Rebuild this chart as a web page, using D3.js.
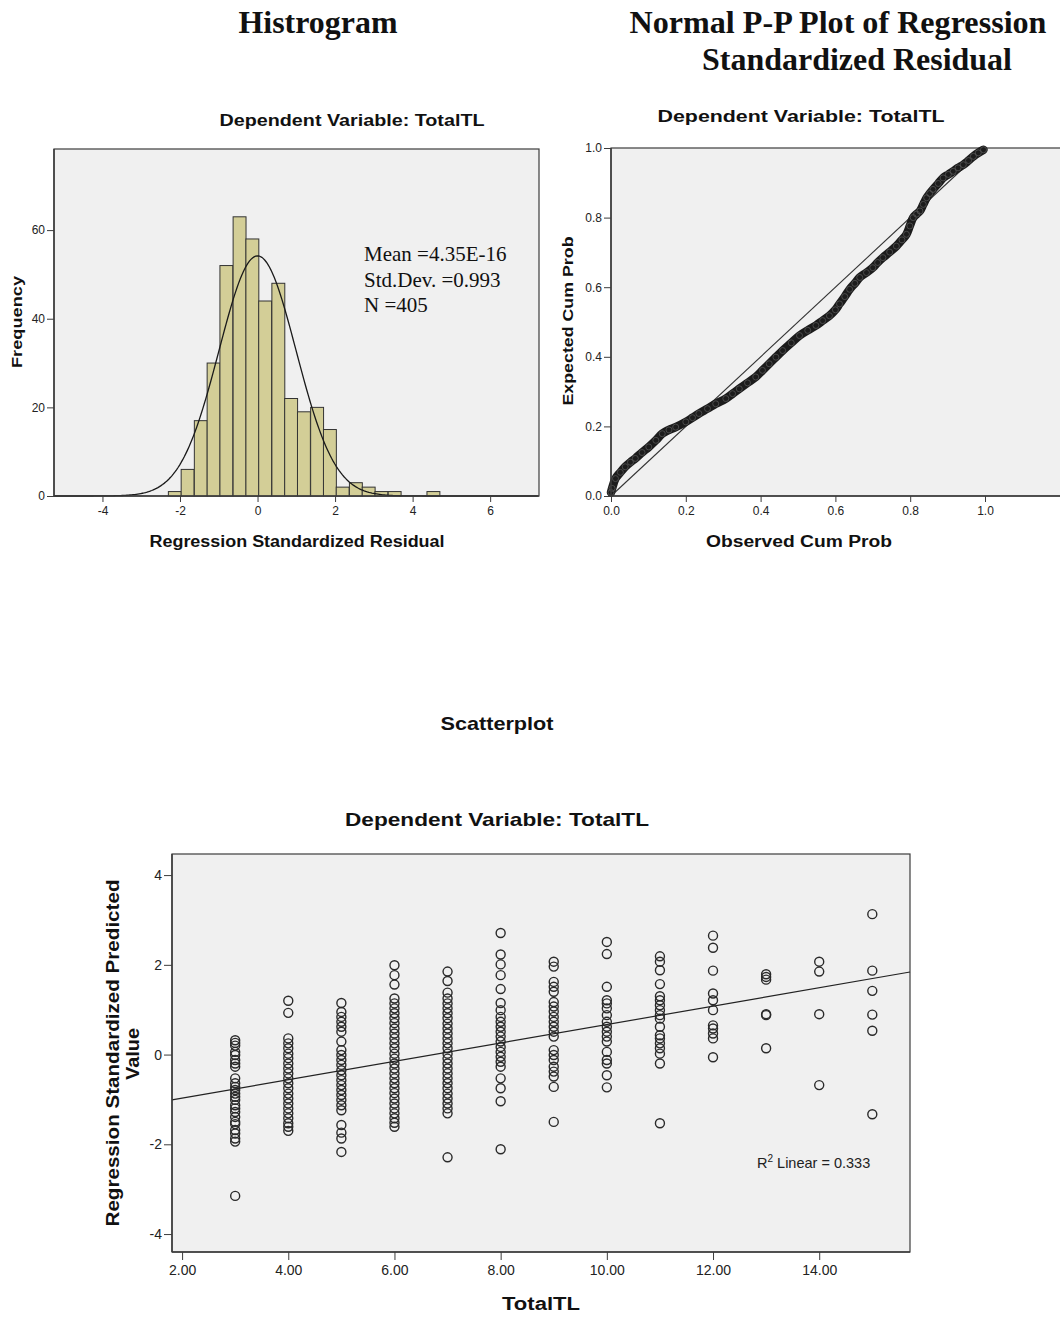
<!DOCTYPE html>
<html><head><meta charset="utf-8">
<script src="https://cdn.jsdelivr.net/npm/d3@7"></script>
<style>body{margin:0;background:#fff}svg{display:block}</style>
</head><body><div id="chart"></div>
<script>
// ---------- DATA ----------
// Histogram (Regression Standardized Residual)
const histBinLeft = [-2.30,-1.97,-1.63,-1.30,-0.97,-0.63,-0.30,0.03,0.37,0.70,1.03,1.37,1.70,2.03,2.37,2.70,3.03,3.37,3.70,4.03,4.37];
const histCounts  = [1,6,17,30,52,63,58,44,48,22,19,20,15,2,3,2,1,1,0,0,1];
const histBinWidth = 0.333;
const histMean = 4.35e-16, histSD = 0.993, histN = 405;
const histXTicks = [-4,-2,0,2,4,6];
const histYTicks = [0,20,40,60];
const statLines = ["Mean =4.35E-16","Std.Dev. =0.993","N =405"];

// Normal P-P plot (observed vs expected cumulative probability)
const ppObserved = [0.000,0.003,0.012,0.025,0.038,0.052,0.065,0.083,0.101,0.120,0.137,0.155,0.173,0.200,0.218,0.235,0.258,0.280,0.307,0.325,0.343,0.365,0.387,0.405,0.423,0.441,0.459,0.482,0.504,0.526,0.548,0.566,0.584,0.600,0.611,0.625,0.638,0.652,0.665,0.683,0.700,0.713,0.727,0.745,0.763,0.778,0.790,0.799,0.808,0.817,0.826,0.835,0.844,0.852,0.861,0.875,0.888,0.902,0.915,0.928,0.942,0.956,0.969,0.982,0.996];
const ppExpected = [0.010,0.022,0.050,0.068,0.084,0.097,0.108,0.125,0.141,0.160,0.179,0.190,0.198,0.213,0.225,0.237,0.251,0.265,0.280,0.294,0.308,0.325,0.342,0.361,0.380,0.399,0.418,0.440,0.461,0.476,0.490,0.504,0.518,0.535,0.552,0.573,0.594,0.611,0.628,0.642,0.656,0.671,0.685,0.701,0.718,0.736,0.752,0.776,0.800,0.810,0.819,0.838,0.857,0.869,0.881,0.898,0.914,0.924,0.933,0.943,0.952,0.964,0.976,0.986,0.995];
const ppTicks = [0,0.2,0.4,0.6,0.8,1.0];

// Scatterplot: TotalTL vs Regression Standardized Predicted Value
const totalTL = [3,4,5,6,7,8,9,10,11,12,13,14,15];
const predicted = [
  [0.32,0.26,0.20,0.06,-0.01,-0.12,-0.20,-0.27,-0.53,-0.64,-0.72,-0.79,-0.87,-0.94,-1.01,-1.13,-1.20,-1.28,-1.39,-1.50,-1.55,-1.68,-1.76,-1.87,-1.94,-3.15],
  [1.20,0.93,0.36,0.25,0.14,0.02,-0.08,-0.20,-0.31,-0.42,-0.53,-0.64,-0.75,-0.87,-0.98,-1.09,-1.20,-1.31,-1.42,-1.53,-1.61,-1.70],
  [1.15,0.95,0.84,0.73,0.62,0.51,0.29,0.10,-0.01,-0.12,-0.23,-0.35,-0.46,-0.57,-0.68,-0.79,-0.90,-1.01,-1.13,-1.24,-1.57,-1.74,-1.87,-2.17],
  [1.99,1.77,1.56,1.25,1.14,1.03,0.92,0.81,0.70,0.58,0.47,0.36,0.25,0.14,0.02,-0.09,-0.20,-0.31,-0.42,-0.53,-0.64,-0.75,-0.86,-0.98,-1.09,-1.20,-1.31,-1.42,-1.52,-1.61],
  [1.85,1.64,1.38,1.25,1.14,1.03,0.92,0.81,0.69,0.58,0.47,0.36,0.25,0.14,0.02,-0.09,-0.20,-0.31,-0.42,-0.53,-0.64,-0.75,-0.87,-0.98,-1.09,-1.20,-1.31,-2.29],
  [2.71,2.23,2.01,1.77,1.46,1.15,0.99,0.84,0.73,0.62,0.51,0.40,0.29,0.17,0.06,-0.05,-0.16,-0.27,-0.53,-0.75,-1.04,-2.11],
  [2.07,1.96,1.62,1.51,1.40,1.17,1.07,0.96,0.84,0.73,0.62,0.51,0.40,0.10,-0.01,-0.12,-0.27,-0.38,-0.49,-0.72,-1.50],
  [2.51,2.24,1.51,1.21,1.14,1.03,0.88,0.73,0.62,0.51,0.40,0.29,0.06,-0.12,-0.20,-0.46,-0.73],
  [2.19,2.07,1.88,1.57,1.30,1.21,1.10,0.99,0.88,0.80,0.62,0.43,0.36,0.25,0.14,0.02,-0.20,-1.53],
  [2.65,2.38,1.87,1.36,1.21,0.99,0.65,0.58,0.47,0.36,-0.06],
  [1.79,1.73,1.67,0.90,0.88,0.14],
  [2.07,1.85,0.90,-0.68],
  [3.13,1.87,1.42,0.89,0.53,-1.33]
];
const fitIntercept = -1.381, fitSlope = 0.205;   // linear fit line
const r2Text = "0.333";
const scXTicks = [2,4,6,8,10,12,14];
const scYTicks = [-4,-2,0,2,4];

// ---------- DRAW ----------
const W = 1060, H = 1318;
const SANS = "'Liberation Sans', Arial, sans-serif";
const SERIF = "'Liberation Serif', 'Times New Roman', serif";
const BG = "#f0f0f0", FRAME = "#3c3c3c";
const hyph = d => String(d);
const svg = d3.select("#chart").append("svg").attr("width", W).attr("height", H);

function txt(x, y, s, o = {}) {
  const t = svg.append("text").attr("x", x).attr("y", y).text(s)
    .attr("font-family", o.family || SANS).attr("font-size", o.size || 12)
    .attr("font-weight", o.weight || "normal").attr("fill", o.fill || "#111")
    .attr("text-anchor", o.anchor || "middle");
  if (o.len) t.attr("textLength", o.len).attr("lengthAdjust", "spacingAndGlyphs");
  if (o.rotate) t.attr("transform", `rotate(${o.rotate},${x},${y})`);
  return t;
}
function styleAxis(g, size) {
  g.select(".domain").remove();
  g.selectAll(".tick line").attr("stroke", FRAME).attr("stroke-width", 1);
  g.selectAll(".tick text").attr("font-family", SANS).attr("font-size", size).attr("fill", "#222");
}

// Headings
txt(318, 33, "Histrogram", {family: SERIF, size: 31, weight: "bold", len: 159});
txt(838, 33, "Normal P-P Plot of Regression", {family: SERIF, size: 31, weight: "bold", len: 417});
txt(857, 70, "Standardized Residual", {family: SERIF, size: 31, weight: "bold", len: 310});

// ---- Histogram ----
const hL = 54, hR = 539, hT = 149, hB = 496;
const hx = d3.scaleLinear().domain([-5.25, 7.26]).range([hL, hR]);
const hy = d3.scaleLinear().domain([0, 78.3]).range([hB, hT]);
svg.append("rect").attr("x", hL).attr("y", hT).attr("width", hR - hL).attr("height", hB - hT)
  .attr("fill", BG).attr("stroke", FRAME).attr("stroke-width", 1.2);
const histData = histBinLeft.map((b, i) => ({b, c: histCounts[i]})).filter(d => d.c > 0);
svg.append("g").selectAll("rect").data(histData).join("rect")
  .attr("x", d => hx(d.b)).attr("width", d => hx(d.b + histBinWidth) - hx(d.b))
  .attr("y", d => hy(d.c)).attr("height", d => hy(0) - hy(d.c))
  .attr("fill", "#d3ce97").attr("stroke", "#333").attr("stroke-width", 1);
const normPts = d3.range(-5.25, 7.26, 0.04).map(x => [x,
  histN * histBinWidth * Math.exp(-0.5 * Math.pow((x - histMean) / histSD, 2)) / (histSD * Math.sqrt(2 * Math.PI))]);
svg.append("path").datum(normPts)
  .attr("d", d3.line().x(d => hx(d[0])).y(d => hy(d[1])))
  .attr("fill", "none").attr("stroke", "#1a1a1a").attr("stroke-width", 1.3);
svg.append("line").attr("x1", hL).attr("x2", hR).attr("y1", hB).attr("y2", hB).attr("stroke", FRAME).attr("stroke-width", 1.5);
svg.append("line").attr("x1", hL).attr("x2", hL).attr("y1", hT).attr("y2", hB).attr("stroke", FRAME).attr("stroke-width", 1.5);
styleAxis(svg.append("g").attr("transform", `translate(${hL},0)`)
  .call(d3.axisLeft(hy).tickValues(histYTicks).tickFormat(hyph).tickSize(7).tickPadding(2)), 12);
styleAxis(svg.append("g").attr("transform", `translate(0,${hB})`)
  .call(d3.axisBottom(hx).tickValues(histXTicks).tickFormat(hyph).tickSize(6).tickPadding(4)), 12);
statLines.forEach((s, i) => txt(364, 261 + i * 25.5, s, {family: SERIF, size: 21, anchor: "start", fill: "#111"}));
txt(352, 126, "Dependent Variable: TotalTL", {size: 17, weight: "bold", len: 265});
txt(297, 547, "Regression Standardized Residual", {size: 16, weight: "bold", len: 295});
txt(22, 322, "Frequency", {size: 15, weight: "bold", rotate: -90, len: 92});

// ---- P-P plot ----
const pL = 611, pR = 1075, pT = 148, pB = 496;
const px = d3.scaleLinear().domain([0, (pR - pL) / 374]).range([pL, pR]);
const py = d3.scaleLinear().domain([0, 1]).range([pB, pT]);
svg.append("rect").attr("x", pL).attr("y", pT).attr("width", pR - pL).attr("height", pB - pT)
  .attr("fill", BG).attr("stroke", FRAME).attr("stroke-width", 1.2);
svg.append("line").attr("x1", px(0)).attr("y1", py(0)).attr("x2", px(1)).attr("y2", py(1))
  .attr("stroke", "#333").attr("stroke-width", 1.1);
const ppData = ppObserved.map((o, i) => [o, ppExpected[i]]);
svg.append("path").datum(ppData)
  .attr("d", d3.line().x(d => px(d[0])).y(d => py(d[1])).curve(d3.curveCatmullRom))
  .attr("fill", "none").attr("stroke", "#1c1c1c").attr("stroke-width", 8.5).attr("stroke-linecap", "round");
svg.append("g").selectAll("circle").data(ppData).join("circle")
  .attr("cx", d => px(d[0])).attr("cy", d => py(d[1])).attr("r", 3)
  .attr("fill", "none").attr("stroke", "#555").attr("stroke-width", 0.8);
svg.append("line").attr("x1", pL).attr("x2", W).attr("y1", pB).attr("y2", pB).attr("stroke", FRAME).attr("stroke-width", 1.5);
svg.append("line").attr("x1", pL).attr("x2", pL).attr("y1", pT).attr("y2", pB).attr("stroke", FRAME).attr("stroke-width", 1.5);
styleAxis(svg.append("g").attr("transform", `translate(${pL},0)`)
  .call(d3.axisLeft(py).tickValues(ppTicks).tickFormat(d3.format(".1f")).tickSize(7).tickPadding(2)), 12);
styleAxis(svg.append("g").attr("transform", `translate(0,${pB})`)
  .call(d3.axisBottom(px).tickValues(ppTicks).tickFormat(d3.format(".1f")).tickSize(6).tickPadding(4)), 12);
txt(801, 122, "Dependent Variable: TotalTL", {size: 17, weight: "bold", len: 287});
txt(799, 547, "Observed Cum Prob", {size: 16, weight: "bold", len: 186});
txt(573, 321, "Expected Cum Prob", {size: 15, weight: "bold", rotate: -90, len: 169});

// ---- Scatterplot ----
txt(497, 730, "Scatterplot", {size: 19, weight: "bold", len: 113});
txt(497, 826, "Dependent Variable: TotalTL", {size: 19, weight: "bold", len: 304});
const sL = 172, sR = 910, sT = 854, sB = 1252;
const sx = d3.scaleLinear().domain([1.81, 15.71]).range([sL, sR]);
const sy = d3.scaleLinear().domain([-4.40, 4.47]).range([sB, sT]);
svg.append("rect").attr("x", sL).attr("y", sT).attr("width", sR - sL).attr("height", sB - sT)
  .attr("fill", BG).attr("stroke", FRAME).attr("stroke-width", 1.2);
const scData = [];
totalTL.forEach((t, i) => predicted[i].forEach(v => scData.push([t, v])));
svg.append("g").selectAll("circle").data(scData).join("circle")
  .attr("cx", d => sx(d[0])).attr("cy", d => sy(d[1])).attr("r", 4.5)
  .attr("fill", "none").attr("stroke", "#2a2a2a").attr("stroke-width", 1.4);
const fx = sx.domain();
svg.append("line")
  .attr("x1", sx(fx[0])).attr("y1", sy(fitIntercept + fitSlope * fx[0]))
  .attr("x2", sx(fx[1])).attr("y2", sy(fitIntercept + fitSlope * fx[1]))
  .attr("stroke", "#222").attr("stroke-width", 1.2);
svg.append("line").attr("x1", sL).attr("x2", sR).attr("y1", sB).attr("y2", sB).attr("stroke", FRAME).attr("stroke-width", 1.5);
svg.append("line").attr("x1", sL).attr("x2", sL).attr("y1", sT).attr("y2", sB).attr("stroke", FRAME).attr("stroke-width", 1.5);
styleAxis(svg.append("g").attr("transform", `translate(${sL},0)`)
  .call(d3.axisLeft(sy).tickValues(scYTicks).tickFormat(hyph).tickSize(8).tickPadding(2)), 14);
styleAxis(svg.append("g").attr("transform", `translate(0,${sB})`)
  .call(d3.axisBottom(sx).tickValues(scXTicks).tickFormat(d3.format(".2f")).tickSize(8).tickPadding(5)), 14);
const r2 = svg.append("text").attr("x", 757).attr("y", 1168).attr("font-family", SANS)
  .attr("font-size", 14.5).attr("fill", "#222");
r2.append("tspan").text("R");
r2.append("tspan").text("2").attr("font-size", 10).attr("dy", -6);
r2.append("tspan").text(" Linear = " + r2Text).attr("dy", 6);
txt(541, 1310, "TotalTL", {size: 18, weight: "bold", len: 78});
txt(119, 1053, "Regression Standardized Predicted", {size: 18, weight: "bold", rotate: -90, len: 347});
txt(139, 1054, "Value", {size: 18, weight: "bold", rotate: -90, len: 52});
</script></body></html>
